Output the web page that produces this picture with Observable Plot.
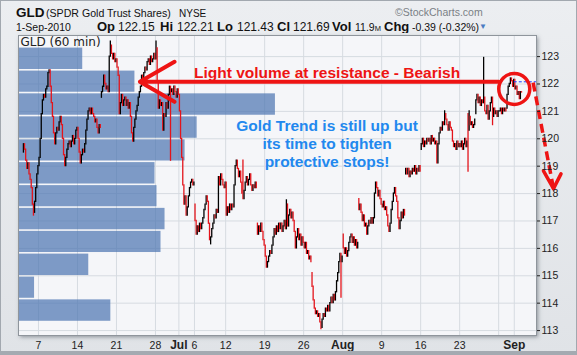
<!DOCTYPE html>
<html><head><meta charset="utf-8">
<script src="https://cdn.jsdelivr.net/npm/d3@7"></script>
<script src="https://cdn.jsdelivr.net/npm/@observablehq/plot@0.6"></script>
<style>
body{margin:0;background:#fff;}
#wrap{position:relative;width:577px;height:355px;overflow:hidden;background:linear-gradient(#eceef1,#e0e3e7);box-shadow:inset 0 0 0 1px #a2a8af;font-family:"Liberation Sans",Arial,sans-serif;}
#head{position:absolute;left:0;top:0;}
#shadow{position:absolute;left:18px;top:35px;width:518px;height:300px;background:#c9ced4;box-shadow:2px 2px 4px rgba(70,78,88,0.55);}
#chart{position:absolute;left:0;top:33px;}
#bottom{position:absolute;left:0;bottom:0;width:577px;height:4px;background:#a4aab1;}
</style></head>
<body><div id="wrap">
<svg id="head" width="577" height="33" font-family="Liberation Sans, Arial, sans-serif" fill="#111">
<text x="16" y="16.5" font-size="13.5" font-weight="bold">GLD</text>
<text x="46" y="16.5" font-size="10.6">(SPDR Gold Trust Shares)</text>
<text x="179" y="16.5" font-size="10">NYSE</text>
<text x="395" y="16" font-size="10.5" fill="#7a7f85">©StockCharts.com</text>
<text x="16" y="30.5" font-size="10.5">1-Sep-2010</text>
<text x="97" y="30.5" font-size="13" font-weight="bold">Op</text>
<text x="118" y="30.5" font-size="12">122.15</text>
<text x="160" y="30.5" font-size="13" font-weight="bold">Hi</text>
<text x="177" y="30.5" font-size="12">122.21</text>
<text x="217" y="30.5" font-size="13" font-weight="bold">Lo</text>
<text x="237" y="30.5" font-size="12">121.43</text>
<text x="277" y="30.5" font-size="13" font-weight="bold">Cl</text>
<text x="293" y="30.5" font-size="12">121.69</text>
<text x="332" y="30.5" font-size="13" font-weight="bold">Vol</text>
<text x="355" y="30.5" font-size="10.5">11.9<tspan font-size="7.5">M</tspan></text>
<text x="384" y="30.5" font-size="13" font-weight="bold">Chg</text>
<text x="412" y="30.5" font-size="10.5">-0.39 (-0.32%)</text>
<text x="479" y="29" font-size="8" fill="#4a7bc2">▼</text>
</svg>
<div id="shadow"></div>
<div id="chart"></div>
<div id="bottom"></div>
</div>
<script>
// ---- trading days (60-minute bars, 7 per day) ----
const days = ["2010-06-03","2010-06-04","2010-06-07","2010-06-08","2010-06-09","2010-06-10","2010-06-11",
"2010-06-14","2010-06-15","2010-06-16","2010-06-17","2010-06-18","2010-06-21","2010-06-22","2010-06-23",
"2010-06-24","2010-06-25","2010-06-28","2010-06-29","2010-06-30","2010-07-01","2010-07-02","2010-07-06",
"2010-07-07","2010-07-08","2010-07-09","2010-07-12","2010-07-13","2010-07-14","2010-07-15","2010-07-16",
"2010-07-19","2010-07-20","2010-07-21","2010-07-22","2010-07-23","2010-07-26","2010-07-27","2010-07-28",
"2010-07-29","2010-07-30","2010-08-02","2010-08-03","2010-08-04","2010-08-05","2010-08-06","2010-08-09",
"2010-08-10","2010-08-11","2010-08-12","2010-08-13","2010-08-16","2010-08-17","2010-08-18","2010-08-19",
"2010-08-20","2010-08-23","2010-08-24","2010-08-25","2010-08-26","2010-08-27","2010-08-30","2010-08-31","2010-09-01"];

const dayOpen = [119.5,118.5,119.0,121.8,120.2,120.5,119.9,120.4,119.8,120.9,121.5,121.7,122.9,121.4,120.2,
121.7,122.8,122.9,120.3,121.7,121.6,117.2,117.6,116.9,116.3,117.3,118.4,117.5,118.4,118.5,116.9,116.1,116.1,
116.7,116.8,116.0,116.2,115.1,113.6,113.7,114.1,116.5,116.4,117.8,116.9,117.1,117.6,116.6,117.7,118.7,118.9,
119.6,119.9,119.9,120.5,120.3,119.8,120.9,120.9,121.3,121.3,121.0,121.1,122.15];

const hourlyClose = [
[119.8,119.6,119.2,118.9,119.1,118.7,118.5],
[118.2,117.6,117.3,117.7,118.2,118.7,119.0],
[119.3,120.0,120.9,121.4,121.6,121.5,121.8],
[121.9,122.4,122.5,121.9,121.3,120.8,120.2],
[119.8,120.2,120.4,120.3,120.6,120.8,120.5],
[120.0,119.4,119.0,119.3,119.6,119.8,119.9],
[119.7,119.9,120.1,119.8,120.0,120.3,120.4],
[120.0,119.5,119.1,119.4,119.6,119.5,119.8],
[120.3,120.7,121.0,121.1,120.9,121.1,120.9],
[120.8,120.6,120.7,120.4,120.2,120.5,120.4],
[121.7,121.9,122.3,122.0,121.8,121.9,121.7],
[123.0,123.4,123.1,122.9,123.1,122.8,122.9],
[122.6,122.3,120.9,121.3,121.6,121.2,121.4],
[121.5,121.2,121.4,121.1,121.3,120.8,120.2],
[119.9,120.4,120.7,121.0,121.2,121.5,121.7],
[121.9,122.3,122.2,122.4,122.6,122.5,122.8],
[122.9,122.7,123.0,122.8,122.9,123.1,122.9],
[123.3,122.1,121.1,121.4,121.2,121.3,120.3],
[120.9,120.8,121.3,121.1,121.6,121.9,121.7],
[121.8,121.6,121.9,121.7,121.5,121.8,121.6],
[121.0,120.0,119.3,118.3,117.6,117.9,117.2],
[117.5,117.9,118.2,118.4,118.5,118.3,118.4],
[117.0,116.5,116.8,116.6,116.9,116.7,116.9],
[117.1,117.4,117.6,117.9,117.7,116.9,116.3],
[116.4,116.7,116.9,117.2,117.1,117.4,117.3],
[118.6,118.3,118.7,118.5,118.3,118.2,118.4],
[117.2,117.5,117.3,117.6,117.4,117.6,117.5],
[118.3,119.0,119.2,118.9,118.6,118.8,118.4],
[118.0,117.8,118.1,118.4,118.6,118.3,118.5],
[118.7,118.3,118.1,118.3,118.2,118.4,118.2],
[116.5,116.8,116.6,116.9,116.6,116.3,116.1],
[115.7,115.3,115.5,115.7,115.9,115.8,116.1],
[116.4,116.7,116.5,116.8,116.6,116.9,116.7],
[116.9,116.6,116.8,117.0,116.7,117.6,116.8],
[117.2,117.4,117.1,117.3,117.0,116.6,116.0],
[116.4,116.7,116.3,116.5,116.1,116.4,116.2],
[116.0,116.2,115.8,115.9,115.6,115.7,115.5],
[114.6,114.1,113.8,113.6,113.7,113.5,113.6],
[113.3,113.1,113.4,113.6,113.5,113.8,113.7],
[113.9,113.7,114.0,114.2,114.0,114.3,114.1],
[114.4,114.8,115.1,115.5,115.8,115.5,115.7],
[116.0,115.8,116.0,115.7,115.9,116.2,116.4],
[116.5,116.2,116.4,116.1,116.3,116.0,116.2],
[117.4,117.6,117.3,117.0,117.2,116.8,116.9],
[116.5,116.8,117.0,116.9,117.1,116.9,117.1],
[118.0,118.4,118.2,117.9,118.1,117.8,117.6],
[117.5,117.7,117.4,117.5,117.2,116.8,116.6],
[116.9,117.4,117.7,118.0,118.2,117.9,117.7],
[117.1,116.7,117.0,117.3,117.1,117.4,117.2],
[118.9,118.7,118.9,118.6,118.8,118.7,118.9],
[118.8,119.0,118.7,118.9,118.8,119.0,118.8],
[119.8,120.0,119.7,119.9,119.8,120.0,119.9],
[120.0,119.8,120.1,119.9,120.0,119.8,119.9],
[119.1,119.8,120.2,120.4,120.3,120.6,120.5],
[120.9,120.7,120.5,120.3,120.6,120.4,120.3],
[119.9,119.7,119.8,119.6,119.9,119.7,119.8],
[119.7,119.9,119.6,119.8,120.0,119.7,119.9],
[120.3,120.8,120.5,120.6,120.4,120.5,120.7],
[121.4,121.6,121.3,121.5,121.2,121.4,121.3],
[121.5,121.0,120.9,121.2,120.7,121.0,121.3],
[121.5,120.8,121.1,120.9,121.0,120.8,121.0],
[121.0,121.1,120.9,121.1,121.0,121.1,121.0],
[121.6,121.9,122.0,122.2,122.1,121.9,122.15],
[121.8,121.9,121.6,121.7,121.45,121.7,121.69]];

// bars whose high/low wick reaches beyond the open/close: [day, hour, price]
const wicks = [["2010-06-04",2,117.2],["2010-06-18",1,123.55],["2010-06-28",0,123.55],["2010-06-29",6,119.2],
["2010-07-08",0,116.15],["2010-07-14",1,119.2],["2010-07-21",5,117.75],["2010-07-28",1,113.05],
["2010-07-30",5,114.2],["2010-08-19",0,121.0],["2010-08-24",0,118.8],["2010-08-24",1,121.0],
["2010-08-26",0,122.95],["2010-08-27",1,120.5]];

// volume-by-price zones (price edges, bottom to top) and volume per zone
const vbpEdges = [113.31,114.15,114.98,115.82,116.65,117.49,118.32,119.16,119.99,120.83,121.67,122.50,123.34];
const vbpVolume = [46,8,35,71,73,69,68,83,89,128,58,32];

// axes
const yTicks = [113,114,115,116,117,118,119,120,121,122,123];
const xTickDays = ["2010-06-07","2010-06-14","2010-06-21","2010-06-28","2010-07-01","2010-07-06","2010-07-12",
"2010-07-19","2010-07-26","2010-08-02","2010-08-09","2010-08-16","2010-08-23","2010-08-30","2010-09-01"];
const xTickLabels = ["7","14","21","28","Jul","6","12","19","26","Aug","9","16","23","","Sep"];

// annotations (in data units: trading day, price)
const resistance = {from: "2010-08-30", to: "2010-06-24", price: 122.08};
const resistanceNote = {day: "2010-07-29", price: 122.22, text: "Light volume at resistance - Bearish"};
const trendNote = {day: "2010-07-29", price: 119.84, text: "Gold Trend is still up but\nits time to tighten\nprotective stops!"};
const circleMark = {day: "2010-09-01", price: 121.82};
const lastLevel = {day: "2010-09-01", price: 122.08};
const forecast = {fromDay: 65.42, fromPrice: 122.05, toDay: 68.03, toPrice: 118.18};
const forecastHead = [{day: 66.74, price: 118.83}, {day: 68.99, price: 118.72}];

// ---- build ----
const idx = new Map(days.map((d, i) => [d, i]));
const bars = [];
days.forEach((d, i) => {
  let o = dayOpen[i];
  hourlyClose[i].forEach((c, h) => {
    bars.push({x: i + (h + 0.5) / 7, o, c, lo: Math.min(o, c), hi: Math.max(o, c)});
    o = c;
  });
});
wicks.forEach(([d, h, p]) => {
  const b = bars[idx.get(d) * 7 + h];
  b.lo = Math.min(b.lo, p); b.hi = Math.max(b.hi, p);
});

const xDomain = [-0.56, 65.85];
const yDomain = [112.82, 123.77];
const vx = d3.scaleLinear().domain([0, d3.max(vbpVolume)])
  .range([xDomain[0], xDomain[0] + 0.496 * (xDomain[1] - xDomain[0])]);
const zones = vbpVolume.map((v, i) => ({y1: vbpEdges[i], y2: vbpEdges[i + 1], x2: vx(v)}));

const RED = "#ee1414";
const font = "Liberation Sans, Arial, sans-serif";
const ticks = xTickDays.map((d, i) => ({x: idx.get(d), label: xTickLabels[i]}));
const isMonth = t => /[A-Za-z]/.test(t.label);

const chart = Plot.plot({
  width: 577, height: 322,
  marginLeft: 18, marginRight: 41, marginTop: 2, marginBottom: 20,
  x: {domain: xDomain, axis: null},
  y: {domain: yDomain, axis: null},
  style: {background: "transparent", fontFamily: font, overflow: "visible"},
  marks: [
    Plot.frame({fill: "#f5f6f9"}),
    Plot.ruleY(yTicks, {stroke: "#d6dbe1"}),
    Plot.ruleX(ticks, {x: "x", stroke: "#d6dbe1"}),
    Plot.rect(zones, {x1: () => xDomain[0], x2: "x2", y1: "y1", y2: "y2",
      fill: "#4a74b0", fillOpacity: 0.7, insetTop: 0.8, insetBottom: 0.8}),
    Plot.ruleX(bars, {x: "x", y1: "lo", y2: "hi",
      stroke: d => d.c < d.o ? "#e3141b" : "#000000", strokeWidth: 1.3, strokeLinecap: "square"}),
    Plot.text(["GLD (60 min)"], {frameAnchor: "top-left", dx: 2, dy: 2, lineAnchor: "top",
      fontSize: 12, fontFamily: "DejaVu Sans", fill: "#222"}),
    Plot.frame({stroke: "#8f959c"}),
    // annotations
    Plot.arrow([resistance], {x1: d => idx.get(d.from), y1: "price", x2: d => idx.get(d.to), y2: "price",
      stroke: RED, strokeWidth: 4, headLength: 15, headAngle: 60}),
    Plot.text([resistanceNote], {x: d => idx.get(d.day), y: "price", text: "text", fill: RED,
      fontSize: 15.5, fontWeight: "bold", textAnchor: "middle", lineAnchor: "bottom"}),
    Plot.text([trendNote], {x: d => idx.get(d.day), y: "price", text: "text", fill: "#2288ee",
      fontSize: 15.5, fontWeight: "bold", textAnchor: "middle", lineAnchor: "middle", lineHeight: 1.18}),
    Plot.ruleY([lastLevel], {y: "price", x1: d => idx.get(d.day), x2: () => xDomain[1],
      stroke: "#1a3cff", strokeDasharray: "3,2", strokeWidth: 1}),
    Plot.dot([circleMark], {x: d => idx.get(d.day), y: "price", r: 15.5, stroke: RED, strokeWidth: 3.5, fill: "none"}),
    Plot.link([forecast], {x1: "fromDay", y1: "fromPrice", x2: "toDay", y2: "toPrice",
      stroke: RED, strokeWidth: 3.5, strokeDasharray: "9,5"}),
    Plot.link(forecastHead, {x1: "day", y1: "price", x2: () => forecast.toDay, y2: () => forecast.toPrice,
      stroke: RED, strokeWidth: 3.5, strokeLinecap: "round"}),
    // axes
    Plot.axisY(yTicks, {anchor: "right", tickSize: 3, tickPadding: 2, fontSize: 10.5, color: "#222", label: null}),
    Plot.text(ticks.filter(t => !isMonth(t)), {x: "x", text: "label", frameAnchor: "bottom", lineAnchor: "bottom",
      dy: 13, fontSize: 10.5, fill: "#222"}),
    Plot.text(ticks.filter(isMonth), {x: "x", text: "label", frameAnchor: "bottom", lineAnchor: "bottom",
      dy: 13, fontSize: 12, fontWeight: "bold", fill: "#222"})
  ]
});
document.getElementById("chart").appendChild(chart);
</script>
</body></html>
